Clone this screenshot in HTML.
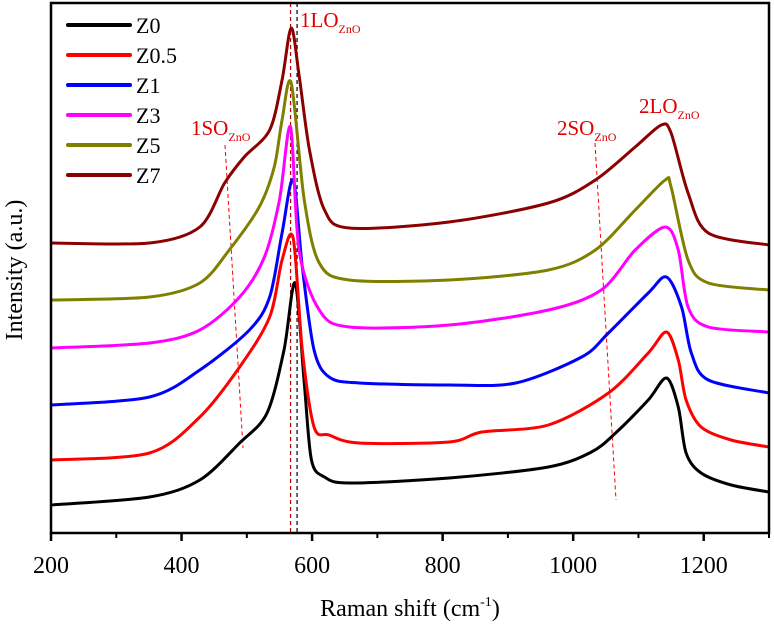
<!DOCTYPE html>
<html><head><meta charset="utf-8"><style>
body{margin:0;background:#fff}
svg{display:block}
text{font-family:"Liberation Serif",serif}
</style></head><body>
<svg id="chart" width="774" height="626" viewBox="0 0 774 626">
</svg>
<script>
// data (x in cm^-1, intensity in arbitrary units)
const seriesNames = ["Z0","Z0.5","Z1","Z3","Z5","Z7"];
const seriesColors = ["#000000","#ff0000","#0000ff","#ff00ff","#808000","#8b0000"];
const xZ0 = [200,351,428,489,531,557,574,588,599,619,657,810,962,1028,1065,1115,1143,1161,1173,1196,1242,1300];
const yZ0 = [28,36,53,90,120,183,250,150,73,56,50,55,66,81,100,133,155,126,80,60,48,41];
const xZ05 = [200,351,428,489,535,554,571,585,603,626,672,810,860,962,1054,1115,1143,1161,1173,1196,1242,1300];
const yZ05 = [73,80,116,166,216,273,295,183,106,98,90,91,101,108,140,180,201,173,133,106,93,86];
const xZ1 = [200,351,428,504,535,554,571,585,603,626,672,810,912,1013,1054,1115,1143,1166,1181,1207,1300];
const yZ1 = [128,136,163,203,236,300,353,266,183,156,150,148,150,176,200,240,256,226,180,153,140];
const xZ3 = [200,351,428,489,527,550,567,580,611,657,810,962,1043,1095,1141,1161,1176,1207,1300];
const yZ3 = [185,190,203,236,276,333,406,283,223,206,208,223,243,283,306,283,226,206,201];
const xZ5 = [200,351,428,473,519,542,554,568,588,611,657,810,962,1034,1095,1141,1150,1176,1207,1300];
const yZ5 = [233,236,250,283,326,366,413,450,333,270,253,253,263,283,323,353,346,273,250,243];
const xZ7 = [200,351,428,466,496,535,554,568,580,596,619,657,810,962,1034,1095,1135,1150,1176,1207,1300];
const yZ7 = [290,290,306,350,376,403,453,505,458,383,323,305,311,330,353,386,408,400,340,300,288];
const xTicks = [200,400,600,800,1000,1200];
const xMinor = [300,500,700,900,1100,1300];

const X0=51,X1=769,Y0=533,Y1=3;
const xs = v => X0 + (v-200)/(1300-200)*(X1-X0);
const ys = v => Y0 - v/530*(Y0-Y1);
const NS="http://www.w3.org/2000/svg";
const svg=document.getElementById('chart');
function mk(tag,attrs,parent){const e=document.createElementNS(NS,tag);for(const k in attrs)e.setAttribute(k,attrs[k]);(parent||svg).appendChild(e);return e;}
const FONT='"Liberation Serif", serif';

const d1=mk('line',{x1:xs(567),y1:Y1,x2:xs(567),y2:Y0,stroke:'#c00000','stroke-width':1.2,'stroke-dasharray':'4,3'});


const d2=mk('line',{x1:xs(577),y1:Y1,x2:xs(577),y2:Y0,stroke:'#000','stroke-width':1.2,'stroke-dasharray':'4,3'});


const d3=mk('line',{x1:225,y1:145,x2:243,y2:448,stroke:'#ff0000','stroke-width':1,'stroke-dasharray':'4,3'});


const d4=mk('line',{x1:595,y1:143,x2:616,y2:500,stroke:'#ff0000','stroke-width':1,'stroke-dasharray':'4,3'});



const allX=[xZ0,xZ05,xZ1,xZ3,xZ5,xZ7], allY=[yZ0,yZ05,yZ1,yZ3,yZ5,yZ7];
for(let s=0;s<6;s++){
  const pts=allX[s].map((x,i)=>[xs(x),ys(allY[s][i])]);
  let d='M'+pts[0][0]+','+pts[0][1];
  for(let i=0;i<pts.length-1;i++){
    const p0=pts[Math.max(0,i-1)],p1=pts[i],p2=pts[i+1],p3=pts[Math.min(pts.length-1,i+2)];
    const t=0.15;
    const c1=[p1[0]+(p2[0]-p0[0])*t,p1[1]+(p2[1]-p0[1])*t];
    const c2=[p2[0]-(p3[0]-p1[0])*t,p2[1]-(p3[1]-p1[1])*t];
    d+=`C${c1[0]},${c1[1]} ${c2[0]},${c2[1]} ${p2[0]},${p2[1]}`;
  }
  const p=mk('path',{d:d,fill:'none',stroke:seriesColors[s],'stroke-width':3,'stroke-linejoin':'round'});
  
  
  const ly=25+s*30;
  const ll=mk('line',{x1:68,y1:ly,x2:130,y2:ly,stroke:seriesColors[s],'stroke-width':4,'stroke-linecap':'round'});
  
  
  const lt=mk('text',{x:136,y:ly+8,'font-size':22,fill:'#000'});
  lt.style.fontFamily=FONT;
  lt.textContent=seriesNames[s];
  
  
}

const fr=mk('rect',{x:X0,y:Y1,width:X1-X0,height:Y0-Y1,fill:'none',stroke:'#000','stroke-width':2.5});


xTicks.forEach(t=>{
  const tk=mk('line',{x1:xs(t),y1:Y0,x2:xs(t),y2:Y0+8,stroke:'#000','stroke-width':2.5});
  
  
  const tl=mk('text',{x:xs(t),y:Y0+40,'font-size':24,'text-anchor':'middle'});
  tl.style.fontFamily=FONT;
  tl.textContent=t;
  
  
});
xMinor.forEach(t=>{
  const tk=mk('line',{x1:xs(t),y1:Y0,x2:xs(t),y2:Y0+5,stroke:'#000','stroke-width':2});
  
  
});
</script>
<svg style="position:absolute;left:0;top:0" width="774" height="626">
<text x="410" y="616" font-size="24" text-anchor="middle" font-family="Liberation Serif, serif">Raman shift (cm<tspan dy="-10" font-size="14">-1</tspan><tspan dy="10">)</tspan></text>
<text transform="translate(22,270) rotate(-90)" font-size="24" text-anchor="middle" font-family="Liberation Serif, serif">Intensity (a.u.)</text>
<g fill="#e00000" font-family="Liberation Serif, serif" font-size="21">
<text x="300" y="27">1LO<tspan dy="6" font-size="12">ZnO</tspan></text>
<text x="191" y="135">1SO<tspan dy="6" font-size="12">ZnO</tspan></text>
<text x="557" y="135">2SO<tspan dy="6" font-size="12">ZnO</tspan></text>
<text x="639" y="113">2LO<tspan dy="6" font-size="12">ZnO</tspan></text>
</g>
</svg>
</body></html>
